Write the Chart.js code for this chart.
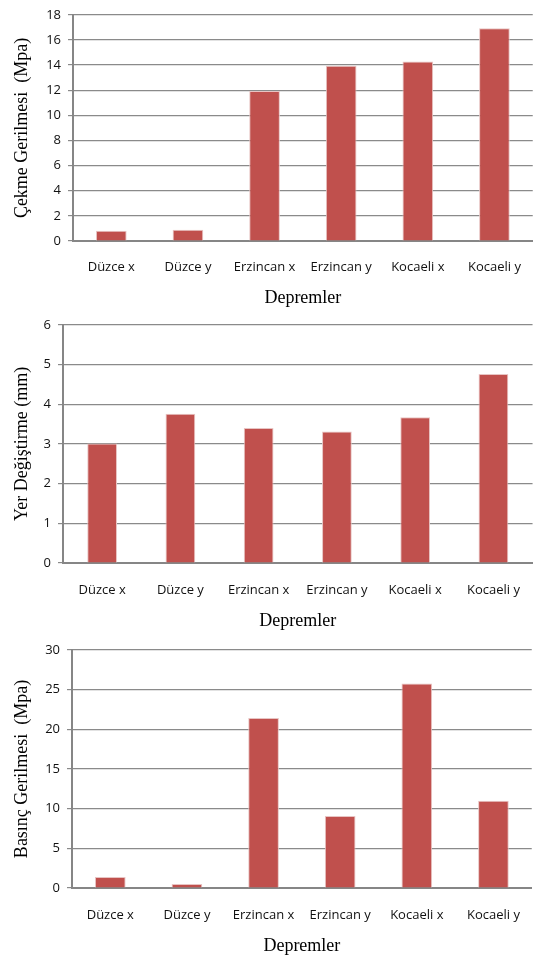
<!DOCTYPE html>
<html>
<head>
<meta charset="utf-8">
<script src="https://cdn.jsdelivr.net/npm/chart.js@4/dist/chart.umd.min.js"></script>
<style>
  html, body { margin: 0; padding: 0; background: #fff; }
  body { width: 539px; height: 959px; position: relative; overflow: hidden; }
  canvas { position: absolute; left: 0; }
</style>
</head>
<body>
<canvas id="c1" width="539" height="310" style="top:0px"></canvas>
<canvas id="c2" width="539" height="325" style="top:310px"></canvas>
<canvas id="c3" width="539" height="324" style="top:635px"></canvas>
<script>
const categories = ['Düzce x', 'Düzce y', 'Erzincan x', 'Erzincan y', 'Kocaeli x', 'Kocaeli y'];
const cekmeGerilmesi = [0.82, 0.9, 11.94, 13.94, 14.28, 16.93];
const yerDegistirme = [3.01, 3.76, 3.4, 3.31, 3.67, 4.76];
const basincGerilmesi = [1.37, 0.5, 21.4, 9.07, 25.76, 10.98];
const xTitle = 'Depremler';
const yTitles = ['Çekme Gerilmesi  (Mpa)', 'Yer Değiştirme (mm)', 'Basınç Gerilmesi  (Mpa)'];
const yMax = [18, 6, 30];
const yStep = [2, 1, 5];

function makeChart(id, values, yTitle, max, step, cfg) {
  new Chart(document.getElementById(id), {
    type: 'bar',
    data: {
      labels: categories,
      datasets: [{
        data: values,
        backgroundColor: '#C0504D',
        borderColor: '#E8C4C3',
        borderWidth: 1,
        borderSkipped: 'bottom',
        categoryPercentage: 1,
        barPercentage: cfg.barPct
      }]
    },
    options: {
      responsive: false,
      animation: false,
      events: [],
      layout: { padding: { top: cfg.padTop, right: 1, left: 0, bottom: 0 } },
      plugins: { legend: { display: false }, tooltip: { enabled: false } },
      scales: {
        x: {
          grid: { display: false, drawTicks: false },
          border: { display: true, color: '#868686', width: 2 },
          ticks: { color: '#111', font: { family: 'Open Sans', size: 13 }, padding: cfg.xTickPad, maxRotation: 0, autoSkip: false },
          title: { display: true, text: xTitle, color: '#000', font: { family: 'Liberation Serif', size: 18 }, padding: { top: 0, bottom: cfg.xTitlePad } },
          afterFit: s => { s.height = cfg.xHeight; }
        },
        y: {
          min: 0, max: max,
          grid: { color: '#8a8a8a', lineWidth: 1.2, drawTicks: true, tickLength: 5 },
          border: { display: true, color: '#868686', width: 2 },
          ticks: { stepSize: step, color: '#111', font: { family: 'Open Sans', size: 13 }, padding: 7 },
          title: { display: true, text: yTitle, color: '#000', font: { family: 'Liberation Serif', size: 18 }, padding: { top: 11, bottom: 0 } },
          afterFit: s => { s.width = cfg.yWidth; }
        }
      }
    }
  });
}

makeChart('c1', cekmeGerilmesi, yTitles[0], yMax[0], yStep[0], { padTop: 10, xHeight: 69, xTickPad: 18, xTitlePad: 1, yWidth: 73, barPct: 0.4 });
makeChart('c2', yerDegistirme, yTitles[1], yMax[1], yStep[1], { padTop: 13, xHeight: 72, xTickPad: 19, xTitlePad: 2.5, yWidth: 63, barPct: 0.38 });
makeChart('c3', basincGerilmesi, yTitles[2], yMax[2], yStep[2], { padTop: 12, xHeight: 71, xTickPad: 19, xTitlePad: 1.5, yWidth: 72, barPct: 0.4 });
</script>
</body>
</html>
